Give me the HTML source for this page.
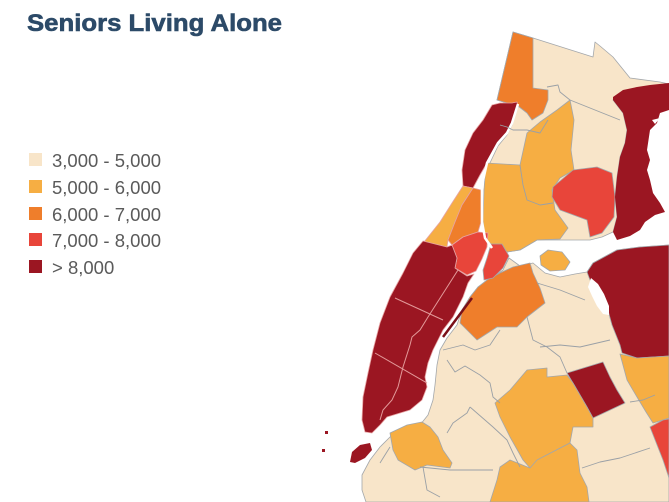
<!DOCTYPE html>
<html><head><meta charset="utf-8"><style>
html,body{margin:0;padding:0;background:#fff;}
svg{display:block;}
</style></head><body>
<svg width="669" height="502" viewBox="0 0 669 502" xmlns="http://www.w3.org/2000/svg">
<rect width="669" height="502" fill="#fff"/>
<text x="27" y="31" font-family="Liberation Sans, sans-serif" font-weight="bold" font-size="24" fill="#2c4a68" stroke="#2c4a68" stroke-width="0.6" textLength="255" lengthAdjust="spacingAndGlyphs">Seniors Living Alone</text>
<g font-family="Liberation Sans, sans-serif" font-size="18.5" fill="#5a5a5a">
<rect x="29" y="153" width="13" height="13" fill="#f8e5c9"/><text x="52" y="167">3,000 - 5,000</text>
<rect x="29" y="180" width="13" height="13" fill="#f6ae43"/><text x="52" y="194">5,000 - 6,000</text>
<rect x="29" y="207" width="13" height="13" fill="#ef7e2b"/><text x="52" y="221">6,000 - 7,000</text>
<rect x="29" y="233" width="13" height="13" fill="#e8453a"/><text x="52" y="247">7,000 - 8,000</text>
<rect x="29" y="260" width="13" height="13" fill="#9b1622"/><text x="52" y="274">&gt; 8,000</text>
</g>
<g stroke="#a3a7ab" stroke-width="0.8" stroke-linejoin="round">
<!-- Bronx base -->
<polygon fill="#f8e5c9" points="513,32 533,38 593,57 595,42 600,46 613,57 630,78 660,82 669,84 669,90 625,92 613,100 623,113 627,130 625,143 620,157 617,177 615,197 617,217 613,232 602,237 590,240 570,240 555,240 537,240 520,250 507,252 495,248 485,238 483,220 484,190 489,165 498,146 507,135 512,125 517,108 507,103 497,100"/>
<!-- Riverdale orange -->
<polygon fill="#ef7e2b" points="513,32 533,38 533,88 548,90 548,100 543,113 532,120 527,113 518,106 507,103 497,100"/>
<!-- Bronx yellow -->
<polygon fill="#f6ae43" points="486,163 520,165 527,133 540,122 557,110 570,100 574,120 571,150 574,170 560,178 552,190 555,210 568,228 560,239 537,240 520,250 507,252 495,248 485,238 483,220 484,190"/>
<!-- Parkchester red -->
<polygon fill="#e8453a" points="553,187 573,170 597,167 612,173 615,197 614,217 602,233 590,237 587,220 560,210 552,197"/>
<!-- East Bronx dark red -->
<polygon fill="#9b1622" stroke="none" points="613,97 623,90 637,87 650,85 669,83 669,110 660,113 657,123 650,130 647,150 650,160 647,170 650,180 653,193 660,203 665,212 655,215 645,222 640,230 630,236 617,240 613,232 617,217 615,197 617,177 620,157 625,143 627,130 623,113 613,100"/>
<polygon fill="#fff" stroke="none" points="660,118 655,124 652,120"/>
<!-- Queens/Brooklyn base -->
<polygon fill="#f8e5c9" points="478,287 490,280 503,270 509,258 520,266 533,263 545,273 560,277 575,274 587,272 593,263 617,250 640,247 669,245 669,502 366,502 362,490 362,475 370,460 380,447 390,437 405,432 420,425 428,415 433,400 435,385 437,365 440,350 447,338 457,325 462,310 470,297"/>
<!-- Queens orange -->
<polygon fill="#ef7e2b" points="478,287 487,280 500,273 513,267 530,263 533,273 540,288 545,303 527,317 517,327 497,327 477,340 467,330 460,323 462,310 470,297"/>
<!-- Astoria red -->
<polygon fill="#e8453a" points="491,244 502,244 509,256 503,268 493,278 484,280 483,270 487,258"/>
<!-- East Queens dark red -->
<polygon fill="#9b1622" points="587,272 593,263 617,250 640,247 669,245 669,356 637,358 622,353 620,345 612,325 607,307 600,290 590,280"/>
<polygon fill="#fff" stroke="none" points="591,278 598,284 604,294 609,306 609,315 603,314 597,306 592,296 588,287"/>
<!-- Yellow right -->
<polygon fill="#f6ae43" points="620,354 637,358 669,356 669,418 663,420 653,423 646,412 637,397 627,380"/>
<!-- Red bottom right -->
<polygon fill="#e8453a" points="650,427 663,420 669,419 669,478 663,460"/>
<!-- Jamaica dark red -->
<polygon fill="#9b1622" points="567,373 603,362 610,377 617,390 625,403 593,418 587,407 573,383"/>
<!-- Mid Queens yellow -->
<polygon fill="#f6ae43" points="495,403 510,390 527,370 547,368 547,377 567,375 573,383 587,407 593,418 593,427 573,427 570,443 543,457 530,468 523,460 510,437 500,417"/>
<!-- Bottom yellow -->
<polygon fill="#f6ae43" points="500,467 510,460 530,468 537,460 570,443 577,450 580,473 587,487 589,502 490,502 497,480"/>
<!-- Park Slope yellow -->
<polygon fill="#f6ae43" points="390,433 407,425 422,422 430,427 438,437 443,450 452,463 450,468 427,465 415,470 398,460 393,450"/>
<!-- Rikers -->
<polygon fill="#f6ae43" points="540,256 548,250 562,252 570,262 565,270 550,271 541,265"/>
</g>
<!-- Manhattan -->
<g stroke="#e6a3a3" stroke-width="0.8" stroke-linejoin="round">
<polygon fill="#9b1622" points="492,105 500,103 512,103 517,102 518,107 512,123 507,133 498,143 487,163 480,175 473,188 463,186 462,170 465,150 473,133 483,120"/>
<polygon fill="#f6ae43" points="463,186 473,188 462,205 455,222 448,240 447,247 424,242 440,222 452,203"/>
<polygon fill="#ef7e2b" points="473,188 481,190 481,222 478,232 463,237 452,245 448,240 455,222 462,205"/>
<polygon fill="#e8453a" points="452,245 463,237 478,232 488,233 487,247 482,259 476,271 467,275 455,268 457,258"/>
<polygon fill="#9b1622" points="423,241 447,247 452,245 457,258 455,268 467,276 474,274 468,283 463,297 453,317 443,330 433,350 428,363 425,377 427,387 422,400 410,410 387,417 380,425 372,433 365,432 362,420 363,397 368,373 373,350 380,323 390,297 403,273 413,253"/>
</g>
<g stroke="#e39a9a" stroke-width="1" fill="none">
<polyline points="395,298 443,320"/>
<polyline points="375,353 427,383"/>
<polyline points="458,270 428,317 420,330 412,337 410,345 403,367 398,387 392,400 383,410 380,420"/>
</g>
<!-- rivers -->
<polyline points="518,104 512,123 507,133 498,143 487,163 482,185 482,222 485,238 492,248" stroke="#fff" stroke-width="2.5" fill="none"/>
<!-- Roosevelt Island -->
<line x1="472" y1="298" x2="443" y2="337" stroke="#7a1018" stroke-width="2.5"/>
<!-- Governors island & small islands -->
<polygon fill="#9b1622" points="350,462 352,452 360,445 370,443 372,450 365,458 355,463"/>
<rect x="325" y="431" width="3" height="3" fill="#9b1622"/>
<rect x="322" y="449" width="3" height="3" fill="#9b1622"/>
<!-- gray boundary lines -->
<g stroke="#9aa0a6" stroke-width="0.9" fill="none" stroke-linejoin="round">
<polyline points="547,87 558,85 560,92 570,100 590,108 620,120"/>
<polyline points="500,125 507,127 513,130 527,130 540,133 548,120"/>
<polyline points="520,165 523,185 527,200 540,205 553,203"/>
<polyline points="447,360 455,372 465,366 480,375 490,383 493,397 500,403"/>
<polyline points="470,407 467,413 453,423 447,433"/>
<polyline points="470,407 493,427 507,440 513,453 520,467"/>
<polyline points="420,467 450,470 493,470"/>
<polyline points="423,467 427,490 440,497"/>
<polyline points="527,317 533,340 547,347 560,357 567,373"/>
<polyline points="540,347 560,345 580,347 610,340"/>
<polyline points="537,283 560,290 585,300"/>
<polyline points="582,468 600,462 620,458 650,448"/>
<polyline points="630,402 643,400 655,395"/>
<polyline points="443,350 463,345 475,350 490,345 500,330"/>
<polyline points="380,463 390,447"/>
</g>
</svg>
</body></html>
